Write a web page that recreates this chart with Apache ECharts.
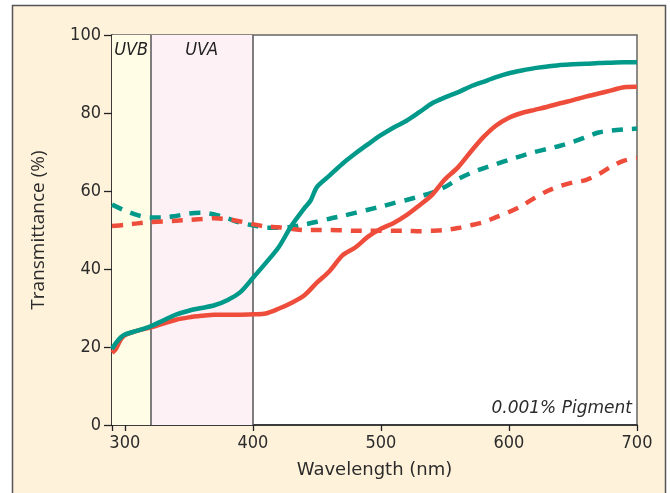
<!DOCTYPE html>
<html>
<head>
<meta charset="utf-8">
<script src="https://cdn.jsdelivr.net/npm/echarts@6/dist/echarts.min.js"></script>
<style>
html,body{margin:0;padding:0;background:#fff;}
#chart{width:670px;height:493px;}
</style>
</head>
<body>
<div id="chart"></div>
<script>
// ---- Data ----
const wavelengths = [290,300,310,320,330,340,350,360,370,380,390,400,410,420,430,440,450,460,470,480,490,500,510,520,530,540,550,560,570,580,590,600,610,620,630,640,650,660,670,680,690,700];

const tealSolidX = [290,293,297,300,310,320,330,340,350,360,370,380,390,400,410,420,430,440,445,450,460,470,480,490,500,510,520,530,540,550,560,570,580,590,600,610,620,630,640,650,660,670,680,690,700];
const tealSolidY = [19.5,21,22.5,23.2,24.2,25.3,26.8,28.3,29.3,30,30.7,32,34,37.7,41.5,45.5,51,55.5,57.5,61,64,67,69.6,72,74.3,76.3,78,80.2,82.5,84,85.3,86.8,88,89.2,90.2,90.9,91.5,91.9,92.3,92.5,92.6,92.8,92.9,93,93];

const redSolidX = [290,293,297,300,310,320,330,340,350,360,370,380,390,400,410,420,430,440,450,460,470,480,490,500,510,520,530,540,550,560,570,580,590,600,610,620,630,640,650,660,670,680,690,700];
const redSolidY = [18.5,19.5,22,23,24.2,25,26,27,27.6,28,28.3,28.3,28.3,28.4,28.6,29.8,31.3,33.2,36.5,39.5,43.5,45.5,48.3,50.3,51.8,53.8,56.3,59,63,66,70,73.8,76.8,78.8,80,80.8,81.6,82.5,83.3,84.2,85,85.8,86.6,86.7];

const tealDashedY = [56.5,55,53.8,53.2,53.2,53.6,54.2,54.4,54,53,51.9,51.2,50.6,50.6,50.8,51.4,52.1,52.9,53.6,54.4,55.2,56,56.9,57.7,58.6,59.6,61,63,64.6,65.8,66.9,68,69,70,70.8,71.6,72.6,73.8,75,75.5,75.8,76];
const redDashedY = [51,51.3,51.7,52,52.2,52.4,52.6,52.8,53,52.8,52.2,51.5,50.9,50.7,50.3,50,50,50,49.9,49.8,49.8,49.8,49.8,49.8,49.7,49.8,50,50.5,51.2,52,53.3,54.6,56.2,58.2,60,61.3,62.2,62.8,64.3,66.3,67.8,68.5];

const xTickValues = [290,300,400,500,600,700];
const xLabelValues = [300,400,500,600,700];
const bands = [{name:'UVB', from:290, to:320}, {name:'UVA', from:320, to:400}];
const bandEdges = [320,400];
const annotation = '0.001% Pigment';

// ---- Chart ----
const TEAL = '#00998A';
const RED = '#EF4D3C';
const zip = (xs, ys) => xs.map((x,i)=>[x, ys[i]]);

const chart = echarts.init(document.getElementById('chart'), null, {renderer:'canvas'});
const lineBase = {type:'line', showSymbol:false, smooth:0.3, z:5, silent:true};

const option = {
  animation:false,
  backgroundColor:'#fff',
  graphic:[{
    type:'rect', z:-10, silent:true,
    shape:{x:12.5, y:5.5, width:653, height:500},
    style:{fill:'#FFF2DB', stroke:'#555', lineWidth:1.5}
  }],
  grid:{left:112, right:33, top:35, bottom:68, show:true, backgroundColor:'#fff', borderColor:'#666', borderWidth:1.5},
  xAxis:{
    type:'value', min:290, max:700,
    name:'Wavelength (nm)', nameLocation:'middle', nameGap:36,
    nameTextStyle:{fontFamily:'DejaVu Sans', fontSize:18, color:'#2b2b2b'},
    axisLine:{show:true, onZero:false, lineStyle:{color:'#222', width:1.5}},
    axisTick:{show:true, length:6, customValues:xTickValues, lineStyle:{color:'#222', width:1.3}},
    axisLabel:{customValues:xLabelValues, fontFamily:'DejaVu Sans Condensed', fontSize:18, color:'#2b2b2b', margin:9},
    splitLine:{show:false}
  },
  yAxis:{
    type:'value', min:0, max:100, interval:20,
    name:'Transmittance (%)', nameLocation:'middle', nameGap:64,
    nameTextStyle:{fontFamily:'Open Sans', fontSize:19, color:'#2b2b2b'},
    axisLine:{show:true, lineStyle:{color:'#222', width:1.5}},
    axisTick:{show:true, length:8, lineStyle:{color:'#222', width:1.3}},
    axisLabel:{fontFamily:'DejaVu Sans Condensed', fontSize:18, color:'#2b2b2b', margin:11},
    splitLine:{show:false}
  },
  series:[
    {
      type:'line', data:[], silent:true, z:1,
      markArea:{silent:true, label:{show:true, position:'insideTop', distance:6, fontFamily:'DejaVu Sans Condensed', fontStyle:'italic', fontSize:18, color:'#222'},
        data:bands.map((b,i)=>[{name:b.name, xAxis:b.from, itemStyle:{color: i===0?'#FFFDE6':'#FDF1F5'}}, {xAxis:b.to}])},
      markLine:{silent:true, symbol:'none', label:{show:false}, lineStyle:{color:'#555', type:'solid', width:1.5},
        data:bandEdges.map(v=>({xAxis:v}))}
    },
    Object.assign({}, lineBase, {name:'tealDashed', data:zip(wavelengths, tealDashedY), lineStyle:{color:TEAL, width:4.5, type:[11,9], cap:'butt'}}),
    Object.assign({}, lineBase, {name:'redDashed', data:zip(wavelengths, redDashedY), lineStyle:{color:RED, width:4.5, type:[11,9], cap:'butt'}}),
    Object.assign({}, lineBase, {name:'redSolid', data:zip(redSolidX, redSolidY), lineStyle:{color:RED, width:4.5}}),
    Object.assign({}, lineBase, {name:'tealSolid', data:zip(tealSolidX, tealSolidY), lineStyle:{color:TEAL, width:4.5},
      markPoint:{silent:true, symbol:'circle', symbolSize:0,
        label:{show:true, position:'left', distance:0, formatter:annotation, fontFamily:'DejaVu Sans', fontStyle:'italic', fontSize:17, color:'#2b2b2b'},
        data:[{coord:[696, 4.3]}]}})
  ]
};
chart.setOption(option);
</script>
</body>
</html>
